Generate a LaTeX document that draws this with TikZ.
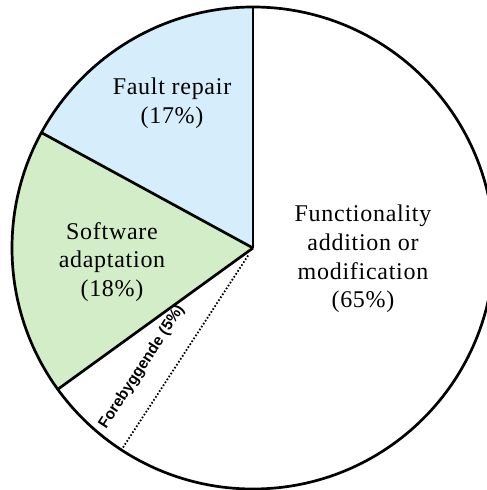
\documentclass[tikz,border=0pt]{standalone}
\usepackage{fontspec}
\usetikzlibrary{calc}
\setmainfont{Liberation Serif}[LetterSpace=3]
\newfontfamily\labelsans{Liberation Sans}
\definecolor{faultblue}{RGB}{214,238,252}
\definecolor{adaptgreen}{RGB}{211,237,200}
\begin{document}
\begin{tikzpicture}[x=1pt,y=1pt,
  rim/.style={line width=2.7pt, line join=round},
  sliceline/.style={line width=2.7pt},
  dotline/.style={line width=1.8pt, dash pattern=on 1.6pt off 1.9pt},
  biglabel/.style={align=center, font=\fontsize{24}{28.8}\selectfont, inner sep=0pt},
  smalllabel/.style={font=\labelsans\bfseries\fontsize{15.5}{17}\selectfont, inner sep=0pt}
]
\useasboundingbox (0,0) rectangle (487,490);
\clip (0,0) rectangle (487,490);
\def\R{241}
\coordinate (C) at (253,242);
\coordinate (top) at ($(C)+(90:\R)$);
\coordinate (pa) at ($(C)+(151.4:\R)$);
\coordinate (pb) at ($(C)+(215.9:\R)$);
\coordinate (pc) at ($(C)+(236.9:\R)$);
\coordinate (pcin) at ($(C)+(236.9:9)$);
% slices
\fill[faultblue] (C) -- (top) arc[start angle=90, end angle=151.4, radius=\R] -- cycle;
\fill[adaptgreen] (C) -- (pa) arc[start angle=151.4, end angle=215.9, radius=\R] -- cycle;
% boundaries
\draw[rim] (C) circle[radius=\R];
\draw[sliceline] (C) -- (top);
\draw[sliceline] (C) -- (pa);
\draw[sliceline] (C) -- (pb);
\draw[dotline] (pcin) -- (pc);
% labels
\node[biglabel] (fault) at (172,387) {Fault repair\\(17\%)};
\node[biglabel] (adapt) at (112,228) {Software\\adaptation\\(18\%)};
\node[biglabel] (func) at (363,231) {Functionality\\addition or\\modification\\(65\%)};
\node[smalllabel, rotate=57] (prev) at (142,123) {Forebyggende (5\%)};
\end{tikzpicture}
\end{document}
